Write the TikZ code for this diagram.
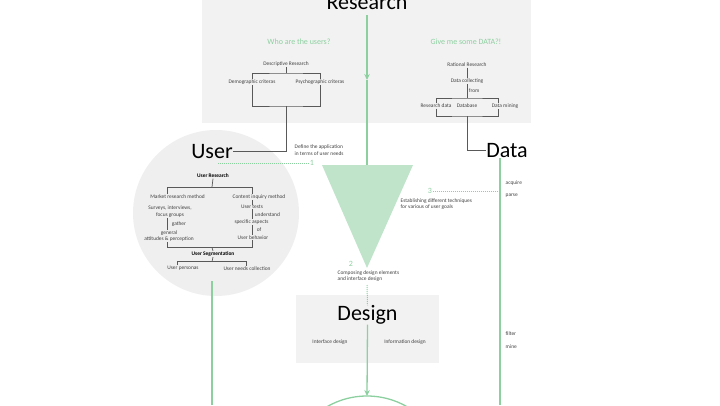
\documentclass[tikz,border=0pt]{standalone}
\usepackage{fontspec}
\setmainfont{Carlito}
\usetikzlibrary{arrows.meta}
\definecolor{mint}{RGB}{140,208,160}
\definecolor{mintfill}{RGB}{192,228,202}
\definecolor{panel}{RGB}{242,242,242}
\definecolor{disc}{RGB}{239,239,239}
\tikzset{
  lbl/.style={font=\fontsize{5.4}{6.4}\selectfont, text=black!75, inner sep=0.5pt},
  head/.style={lbl, font=\fontsize{5.4}{6.4}\selectfont\bfseries, text=black},
  big/.style={font=\fontsize{22}{26}\selectfont, anchor=base, inner sep=0pt},
  ask/.style={font=\fontsize{8}{10}\selectfont, text=mint},
  num/.style={font=\fontsize{8}{9}\selectfont, text=mint, inner sep=0.5pt},
  tree/.style={draw=black!65, line width=0.7pt},
  flow/.style={draw=mint, line width=1.3pt},
  dots/.style={draw=mint, line width=1pt, dash pattern=on 1pt off 1pt},
}
\begin{document}
\begin{tikzpicture}[x=1pt,y=-1pt]
                    \useasboundingbox (0,0) rectangle (720,405);
                    \clip (0,0) rectangle (720,405);
                    \fill[panel] (202,0) rectangle (531,123);
                    \fill[disc] (216,213) circle[radius=83];
                    \fill[panel] (296,295) rectangle (439,363);
                    \fill[mintfill] (322,165) coordinate (tl) -- (413,165) coordinate (tr) -- (367,268) coordinate (tb) -- cycle;

                    \node[big] (research) at (367,9) {Research};
                    \node[big] (user) at (212,158) {User};
                    \node[big] (data) at (507,157.3) {Data};
                    \node[big] (design) at (367.5,320.7) {Design};

                    \node[ask] (askuser) at (299,42) {Who are the users?};
                    \node[ask] (askdata) at (466,42) {Give me some DATA?!};

                    \node[lbl] (desc) at (286,64) {Descriptive Research};
                    \node[lbl] (demo) at (252,82) {Demographic criteras};
                    \node[lbl] (psych) at (320,82) {Psychographic criteras};
                    \coordinate (dbar) at (286,73);
                    \coordinate (dlow) at (286,106);
                    \draw[tree] (desc.south) -- (dbar);
                    \draw[tree] (demo.north) |- (dbar) -| (psych.north);
                    \draw[tree] (demo.south) |- (dlow) -| (psych.south);
                    \draw[tree] (dlow) |- (user.east);

                    \node[lbl] (rat) at (467,65) {Rational Research};
                    \node[lbl] (coll) at (467,81) {Data collecting};
                    \node[lbl] (rdata) at (436,106) {Research data};
                    \node[lbl] (dbase) at (467,106) {Database};
                    \node[lbl] (dmine) at (505,106) {Data mining};
                    \coordinate (cbar) at (467,98);
                    \coordinate (clow) at (467,116);
                    \draw[tree] (rat.south) -- (coll.north);
                    \draw[tree] (coll.south) -- (cbar) node[lbl, midway, right, xshift=1pt] {from};
                    \draw[tree] (rdata.north) |- (cbar) -| ([xshift=-7pt]dmine.north);
                    \draw[tree] (rdata.south) |- (clow) -| ([xshift=-7pt]dmine.south);
                    \draw[tree] (clow) |- (data.west);

                    \node[head] (ures) at (213,176) {User Research};
                    \coordinate (ubar) at (212,187);
                    \coordinate (lx) at (167,187);
                    \coordinate (rx) at (252,187);
                    \node[lbl] (mkt) at (177.5,197) {Market research method};
                    \node[lbl, align=center] (surv) at (170,211.7) {Surveys, interviews,\\focus groups};
                    \node[lbl, align=center] (gen) at (169,236) {general\\attitudes \& perception};
                    \node[lbl] (cont) at (259,197) {Content inquiry method};
                    \node[lbl] (tests) at (252,207) {User tests};
                    \node[lbl] (spec) at (251.5,222.3) {specific aspects};
                    \node[lbl] (behav) at (253,237.3) {User behavior};
                    \coordinate (sbar) at (212,247.5);
                    \node[head] (useg) at (213,254) {User Segmentation};
                    \coordinate (pbar) at (212,261.7);
                    \node[lbl] (pers) at (183,268.3) {User personas};
                    \node[lbl] (needs) at (247,268.3) {User needs collection};
                    \draw[tree] (ures.south) -- (ubar);
                    \draw[tree] (lx |- mkt.north) -- (lx) -- (rx) -- (rx |- cont.north);
                    \draw[tree] (lx |- surv.south) -- (lx |- gen.north) node[lbl, midway, right, xshift=4pt] {gather};
                    \draw[tree] (lx |- gen.south) -- (lx |- sbar) -- (rx |- sbar) -- (rx |- behav.south);
                    \draw[tree] (rx |- cont.south) -- (rx |- tests.north);
                    \draw[tree] (rx |- tests.south) -- (rx |- spec.north) node[lbl, midway, right, xshift=2pt] {understand};
                    \draw[tree] (rx |- spec.south) -- (rx |- behav.north) node[lbl, midway, right, xshift=4pt] {of};
                    \draw[tree] (sbar) -- (useg.north);
                    \draw[tree] (useg.south) -- (pbar);
                    \draw[tree] ([xshift=-6pt]pers.north) |- (pbar) -| ([xshift=-1pt]needs.north);

                    \node[lbl, align=left, anchor=west] (defn) at (294,150) {Define the application\\in terms of user needs};
                    \node[lbl, align=left, anchor=west] (estab) at (400,204) {Establishing different techniques\\for various of user goals};
                    \node[lbl, align=left, anchor=west] (comp) at (337,276) {Composing design elements\\and interface design};
                    \node[lbl] (iface) at (330,342) {Interface design};
                    \node[lbl] (info) at (405,342) {Information design};

                    \node[num] (n1) at (312,163) {1};
                    \node[num] (n2) at (351,264) {2};
                    \node[num] (n3) at (430,191) {3};

                    \coordinate (rarrow) at (367,80);
                    \coordinate (tmid) at (367,165);
                    \coordinate (d1) at (218,163);
                    \coordinate (dtop) at (500,158);
                    \coordinate (dbot) at (500,405);
                    \coordinate (ulow) at (212,281);
                    \coordinate (ubot) at (212,405);
                    \coordinate (dd1) at (367,285);
                    \coordinate (arctop) at (367,396);
                    \coordinate (outc) at (367,476);

                    \draw[flow, -{Stealth[length=6pt,width=5.5pt]}] ([yshift=-6pt]research.south) -- (rarrow);
                    \draw[flow] (rarrow) -- (tmid);
                    \draw[flow] (dtop) -- (dbot);
                    \draw[flow] (ulow) -- (ubot);
                    \draw[flow, -{Stealth[length=6pt,width=5.5pt]}] (design.south) -- (arctop);
                    \draw[flow] (outc) circle[radius=80];
                    \draw[dots] (d1) -- (n1.west);
                    \draw[dots] (n3.east) -- (n3 -| dtop);
                    \draw[dots] (dd1) -- (design.north);

                    \node[lbl, anchor=west] (acq) at (505,183) {acquire};
                    \node[lbl, anchor=west] (parse) at (505,196) {parse};
                    \node[lbl, anchor=west] (filt) at (505,334) {filter};
                    \node[lbl, anchor=west] (mine) at (505,347) {mine};
\end{tikzpicture}
\end{document}
